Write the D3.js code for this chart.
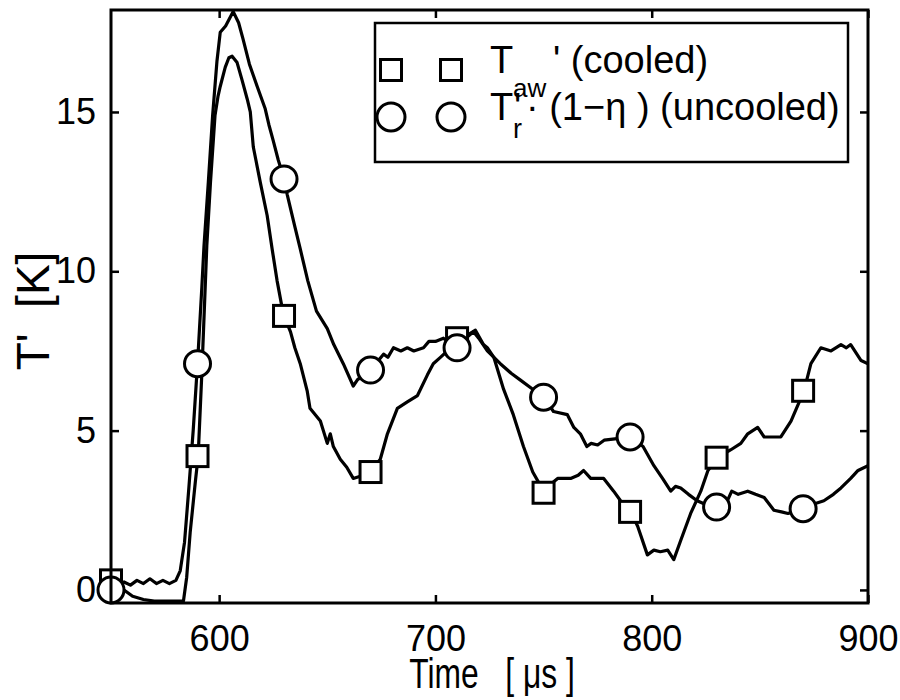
<!DOCTYPE html>
<html><head><meta charset="utf-8">
<script src="https://cdn.jsdelivr.net/npm/d3@7"></script>
<style>body{margin:0;background:#fff}text{font-family:"Liberation Sans",Arial,Helvetica,sans-serif;fill:#000}</style>
</head><body><script>
// ---- data ----
const uncooledTime=[550,553,556,559,562,565,568,571,574,577,580,582,584,586,588,590,592,593,595,597,599,600.5,603,606.5,609,611,614,617.6,621.3,623,625,627.3,630,631.5,635,637.5,641,645,650,653,657.4,662,664,670,676,678,680.6,684,687,690,694.5,697,700,703.7,710,714,717.6,720,724,730,735,739,745,750,754.6,761,764,767,770,772,775,778,784,790,796,801,805,808.8,811,813.4,817,821,826,830.5,835,837,840,844.4,848,852,856.5,860,863,870,875,879.6,884,887.5,892,895.4,900];
const uncooledT=[0.0,0.1,0.25,0.15,0.3,0.2,0.35,0.2,0.3,0.2,0.3,0.6,1.5,3.2,5.0,7.1,9.5,10.8,12.8,14.9,16.6,17.5,17.7,18.15,17.8,17.3,16.5,15.8,15.1,14.6,14.1,13.5,12.9,12.4,11.4,10.7,9.7,8.75,8.2,7.7,7.1,6.4,6.6,6.9,7.4,7.3,7.6,7.5,7.6,7.5,7.6,7.8,7.8,7.9,7.6,7.9,8.1,7.9,7.5,7.1,6.8,6.6,6.3,6.05,5.6,5.5,5.1,4.9,4.5,4.6,4.55,4.7,4.75,4.8,4.5,3.9,3.5,3.1,3.25,3.2,3.0,2.8,2.65,2.6,2.8,3.1,3.0,3.1,3.0,2.9,2.5,2.45,2.4,2.55,2.7,2.8,3.0,3.2,3.5,3.75,3.9];
const cooledTime=[550,553,556,560,565,570,575,580,583.5,585,586.6,589,590.3,592,594.3,596,598.1,599.5,600.5,602.8,604.5,606,608.3,610.6,613,614.4,615.8,619,622.2,624.5,626.8,629,630,633,635,637.5,640.7,642,646.8,650,651.4,652.8,656,659,662,666.7,670,674.5,677.8,682.4,687,691.7,696.3,699,702.3,705.5,710,714.8,718.5,722.2,724,727,731.5,736,740.7,745,750,753,756.5,762.5,766,768.5,771.8,777.8,782.4,785.6,790.3,793.5,798,801,804,807.4,810.2,813.4,818,822.7,826,830.5,836.6,841.2,844.4,849,852,859.7,864.4,870.4,873.6,878.2,882.9,887.5,890,892,896.8,900];
const cooledT=[0.2,0.1,0.0,-0.2,-0.3,-0.35,-0.35,-0.35,-0.35,0.4,1.8,3.4,4.2,6.8,10.8,12.8,14.9,15.5,15.8,16.4,16.7,16.75,16.55,16.0,15.4,15.0,13.9,12.8,11.75,10.7,9.7,8.9,8.6,8.1,7.6,7.1,6.25,5.7,5.3,4.6,4.9,4.5,4.1,3.85,3.5,3.6,3.7,4.1,4.9,5.7,5.9,6.1,6.75,7.1,7.3,7.5,7.9,8.0,8.15,7.7,7.6,7.3,6.3,5.5,4.5,3.7,3.1,3.3,3.5,3.5,3.6,3.75,3.5,3.5,3.1,2.8,2.45,2.0,1.1,1.25,1.2,1.25,0.95,1.55,2.4,3.1,3.75,4.15,4.4,4.6,4.9,5.1,4.8,4.8,5.3,6.25,7.1,7.6,7.5,7.7,7.6,7.7,7.2,7.1];
const markerTime=[550,590,630,670,710,750,790,830,870];
const cooledMarker=[0.3,4.2,8.6,3.7,7.9,3.05,2.45,4.15,6.25];
const uncooledMarker=[0.0,7.1,12.9,6.9,7.6,6.05,4.8,2.6,2.55];
const xTicks=[600,700,800,900];
const yTicks=[0,5,10,15];

// ---- layout ----
const L=111,R=868,T=10,B=603;
const svg=d3.select("body").append("svg").attr("width",900).attr("height",700);
const x=d3.scaleLinear().domain([550,900]).range([L,R]);
const y=d3.scaleLinear().domain([-0.41,18.2]).range([B,T]);

svg.append("clipPath").attr("id","clip").append("rect").attr("x",L).attr("y",T).attr("width",R-L).attr("height",B-T);

// axes (ticks inward on all sides)
const ax=svg.append("g").attr("transform",`translate(0,${B})`).call(d3.axisBottom(x).tickValues(xTicks).tickSizeInner(-8).tickSizeOuter(0).tickPadding(22));
const ay=svg.append("g").attr("transform",`translate(${L},0)`).call(d3.axisLeft(y).tickValues(yTicks).tickSizeInner(-8).tickSizeOuter(0).tickPadding(15));
const axT=svg.append("g").attr("transform",`translate(0,${T})`).call(d3.axisTop(x).tickValues(xTicks).tickSizeInner(-8).tickSizeOuter(0).tickFormat(""));
const ayR=svg.append("g").attr("transform",`translate(${R},0)`).call(d3.axisRight(y).tickValues(yTicks).tickSizeInner(-8).tickSizeOuter(0).tickFormat(""));
[ax,ay,axT,ayR].forEach(g=>{g.select(".domain").remove();g.selectAll(".tick line").attr("stroke","#000").attr("stroke-width",2.5);
  g.selectAll("text").attr("font-size",36).attr("font-family","Liberation Sans, Arial, sans-serif").attr("fill","#000");});

// curves
const line=d3.line().x(d=>x(d[0])).y(d=>y(d[1]));
const plot=svg.append("g").attr("clip-path","url(#clip)");
plot.append("path").datum(cooledTime.map((t,i)=>[t,cooledT[i]])).attr("d",line)
  .attr("fill","none").attr("stroke","#000").attr("stroke-width",3.2).attr("stroke-linejoin","round");
plot.append("path").datum(uncooledTime.map((t,i)=>[t,uncooledT[i]])).attr("d",line)
  .attr("fill","none").attr("stroke","#000").attr("stroke-width",3.2).attr("stroke-linejoin","round");

// markers
const sq=21, cr=13;
svg.append("g").selectAll("rect").data(markerTime.map((t,i)=>[t,cooledMarker[i]])).join("rect")
  .attr("x",d=>x(d[0])-sq/2).attr("y",d=>y(d[1])-sq/2).attr("width",sq).attr("height",sq)
  .attr("fill","#fff").attr("stroke","#000").attr("stroke-width",3);
svg.append("g").selectAll("circle").data(markerTime.map((t,i)=>[t,uncooledMarker[i]])).join("circle")
  .attr("cx",d=>x(d[0])).attr("cy",d=>y(d[1])).attr("r",cr)
  .attr("fill","#fff").attr("stroke","#000").attr("stroke-width",3);

// frame
svg.append("rect").attr("x",L).attr("y",T).attr("width",R-L).attr("height",B-T)
  .attr("fill","none").attr("stroke","#000").attr("stroke-width",3);

// axis labels
svg.append("text").attr("transform","translate(492,688) scale(0.74,1)").attr("text-anchor","middle")
  .attr("font-size",43).attr("xml:space","preserve").style("white-space","pre").text("Time   [ μs ]");
svg.append("text").attr("transform","translate(49,311) rotate(-90)").attr("text-anchor","middle")
  .attr("font-size",46).attr("xml:space","preserve").style("white-space","pre").text("T'  [K]");

// legend
const lg=svg.append("g");
lg.append("rect").attr("x",375).attr("y",23).attr("width",473).attr("height",139)
  .attr("fill","#fff").attr("stroke","#000").attr("stroke-width",2.5);
[391,451].forEach(cx=>{
  lg.append("rect").attr("x",cx-sq/2).attr("y",70-sq/2).attr("width",sq).attr("height",sq).attr("fill","#fff").attr("stroke","#000").attr("stroke-width",3);
  lg.append("circle").attr("cx",cx).attr("cy",117).attr("r",14).attr("fill","#fff").attr("stroke","#000").attr("stroke-width",3);
});
const t1=lg.append("text").attr("font-size",38).attr("xml:space","preserve").style("white-space","pre");
t1.append("tspan").attr("x",490).attr("y",73).text("T");
t1.append("tspan").attr("x",513).attr("y",97).attr("font-size",26).text("aw");
t1.append("tspan").attr("x",553).attr("y",73).text("' (cooled)");
const t2=lg.append("text").attr("font-size",38).attr("xml:space","preserve").style("white-space","pre");
t2.append("tspan").attr("x",490).attr("y",120).text("T");
t2.append("tspan").attr("x",513).attr("y",138).attr("font-size",27).text("r");
t2.append("tspan").attr("x",514).attr("y",120).text("'");
t2.append("tspan").attr("x",526).attr("y",120).text("· (1−η ) (uncooled)");
</script></body></html>
